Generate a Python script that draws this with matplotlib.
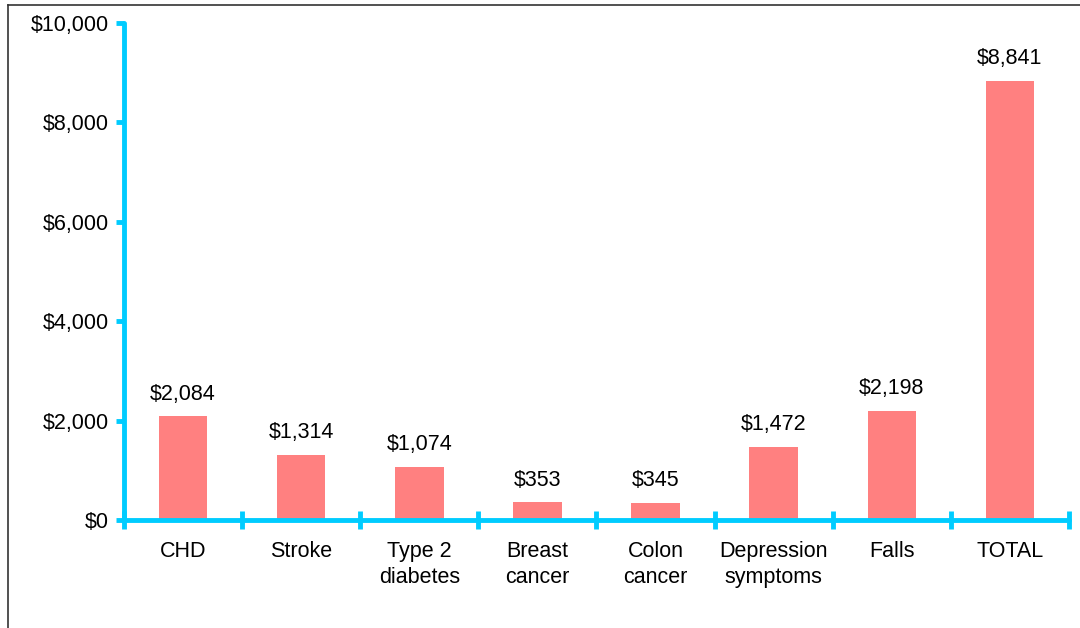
import matplotlib.pyplot as plt
from matplotlib.ticker import FuncFormatter, FixedLocator
from matplotlib.lines import Line2D

plt.rcParams['font.family'] = ['Liberation Sans', 'DejaVu Sans']

categories = ['CHD', 'Stroke', 'Type 2\ndiabetes', 'Breast\ncancer', 'Colon\ncancer',
              'Depression\nsymptoms', 'Falls', 'TOTAL']
costs = [2084, 1314, 1074, 353, 345, 1472, 2198, 8841]

axisColor = '#00ccff'
barColor = '#ff8080'
fs = 15.5

fig = plt.figure(figsize=(10.8, 6.28), dpi=100)
ax = fig.add_axes([0.1148, 0.172, 0.875, 0.7914])

pos = list(range(len(categories)))
ax.bar(pos, costs, width=0.41, color=barColor, zorder=2)

for x, v in zip(pos, costs):
    ax.annotate('${:,}'.format(v), xy=(x, v), xytext=(0, 8.5), textcoords='offset points',
                ha='center', va='bottom', fontsize=fs)

ax.set_xlim(-0.5, len(categories) - 0.5)
ax.set_ylim(0, 10000)
ax.set_yticks(range(0, 10001, 2000))
ax.yaxis.set_major_formatter(FuncFormatter(lambda v, p: '${:,.0f}'.format(v)))

# category boundaries as major ticks, labels on minor ticks at bar centres
ax.xaxis.set_major_locator(FixedLocator([p - 0.5 for p in range(len(categories) + 1)]))
ax.xaxis.set_minor_locator(FixedLocator(pos))
ax.set_xticklabels([], minor=False)
ax.set_xticklabels(categories, minor=True, linespacing=1.35)

for side in ['top', 'right']:
    ax.spines[side].set_visible(False)
for side in ['left', 'bottom']:
    ax.spines[side].set_color(axisColor)
    ax.spines[side].set_linewidth(3.5)
    ax.spines[side].set_capstyle('round')

ax.tick_params(axis='x', which='major', direction='inout', length=13, width=3.5, color=axisColor)
ax.tick_params(axis='x', which='minor', length=0, pad=15, labelsize=fs)
ax.tick_params(axis='y', direction='out', length=6, width=3.5, color=axisColor, labelsize=fs, pad=5)

# outer frame (left and top edges)
fig.add_artist(Line2D([0.0075, 0.0075], [0, 0.992], transform=fig.transFigure, color='#333333', lw=1.2))
fig.add_artist(Line2D([0.0075, 1.0], [0.992, 0.992], transform=fig.transFigure, color='#333333', lw=1.2))

fig.savefig('out.png', dpi=100)
